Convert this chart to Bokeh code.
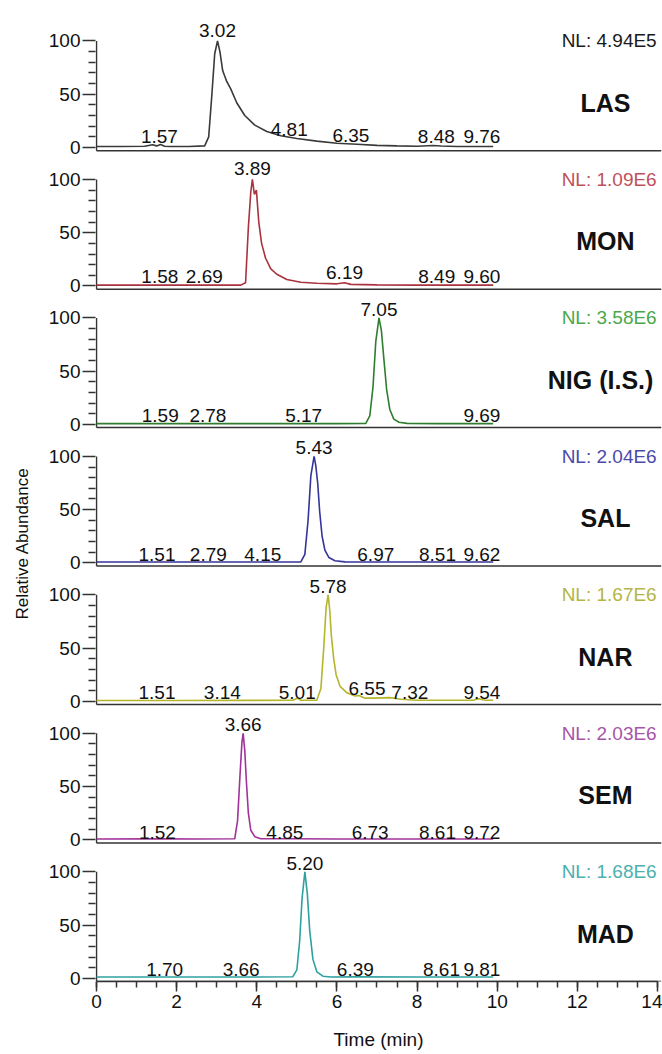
import math
from bokeh.plotting import figure
from bokeh.models import FixedTicker, Range1d, Title
from bokeh.core.properties import value
from bokeh.embed import file_html
from bokeh.resources import INLINE

# ---------------- data ----------------
compounds = ["LAS", "MON", "NIG (I.S.)", "SAL", "NAR", "SEM", "MAD"]
nl_labels = ["NL: 4.94E5", "NL: 1.09E6", "NL: 3.58E6", "NL: 2.04E6",
             "NL: 1.67E6", "NL: 2.03E6", "NL: 1.68E6"]

las_t = [0.0, 0.6, 1.2, 1.4, 1.5, 1.6, 1.7, 1.85, 2.3, 2.7, 2.8, 2.88, 2.95, 3.02, 3.08, 3.15,
         3.25, 3.35, 3.5, 3.7, 3.95, 4.25, 4.6, 5.0, 5.5, 6.0, 6.5, 7.0, 7.5, 8.0, 8.4, 8.6, 9.0, 9.9]
las_a = [1.0, 1.0, 1.2, 2.5, 1.5, 2.8, 1.2, 1.0, 1.0, 1.5, 10, 50, 88, 100, 90, 72,
         62, 55, 42, 30, 21, 15, 11, 8.5, 6, 4, 3, 2, 1.5, 1.2, 1.8, 1.4, 1.0, 1.0]

mon_t = [0.0, 1.0, 2.0, 3.0, 3.6, 3.72, 3.79, 3.85, 3.89, 3.94, 3.99, 4.05, 4.12, 4.22, 4.35,
         4.5, 4.75, 5.1, 5.5, 6.0, 6.19, 6.35, 7.0, 8.0, 9.0, 9.9]
mon_a = [0.8, 0.8, 0.8, 0.8, 0.8, 3, 55, 88, 100, 86, 90, 60, 40, 26, 16,
         11, 6, 3.5, 2.5, 2, 3, 1.5, 1, 0.8, 0.8, 0.8]

nig_t = [0.0, 3.0, 6.0, 6.72, 6.82, 6.9, 6.97, 7.05, 7.11, 7.17, 7.24, 7.32, 7.42, 7.55, 7.75, 8.5, 9.9]
nig_a = [0.8, 0.8, 0.8, 1, 8, 35, 78, 100, 88, 62, 33, 14, 5, 2, 1, 0.8, 0.8]

sal_t = [0.0, 2.0, 4.0, 5.1, 5.2, 5.28, 5.35, 5.43, 5.47, 5.52, 5.57, 5.63, 5.7, 5.8, 5.95, 6.2, 7.0, 8.0, 9.9]
sal_a = [0.8, 0.8, 0.8, 1, 8, 40, 82, 100, 92, 75, 48, 25, 12, 5, 2, 1, 0.8, 0.8, 0.8]

nar_t = [0.0, 2.0, 4.9, 5.01, 5.1, 5.5, 5.6, 5.67, 5.73, 5.78, 5.82, 5.86, 5.92, 5.98, 6.08,
         6.25, 6.45, 6.55, 6.7, 6.9, 7.32, 7.6, 8.0, 9.4, 9.54, 9.7, 9.9]
nar_a = [0.8, 0.8, 1.0, 3.0, 1.0, 1.2, 12, 50, 88, 100, 86, 62, 40, 25, 14,
         8, 5, 5.5, 3, 3, 3.5, 2, 1, 1, 2.5, 1, 1]

sem_t = [0.0, 1.52, 2.5, 3.45, 3.52, 3.58, 3.63, 3.66, 3.7, 3.74, 3.79, 3.85, 3.95, 4.1, 4.85, 6.0, 8.0, 9.9]
sem_a = [0.8, 1.0, 0.8, 1, 18, 60, 92, 100, 84, 55, 25, 9, 3, 1, 1.0, 0.8, 0.8, 0.8]

mad_t = [0.0, 2.0, 4.0, 4.9, 5.0, 5.07, 5.13, 5.2, 5.26, 5.32, 5.4, 5.5, 5.65, 5.85, 6.39, 8.0, 9.9]
mad_a = [1.2, 1.2, 1.2, 1.5, 8, 35, 75, 100, 80, 45, 18, 6, 2, 1.2, 1.5, 1.2, 1.2]

# annotated retention times and label heights (abundance units above baseline)
las_rt = [1.57, 3.02, 4.81, 6.35, 8.48, 9.76]
las_rh = [10, 110, 17, 11, 10, 10]
mon_rt = [1.58, 2.69, 3.89, 6.19, 8.49, 9.60]
mon_rh = [9, 9, 110, 13, 9, 9]
nig_rt = [1.59, 2.78, 5.17, 7.05, 9.69]
nig_rh = [8, 8, 8, 108, 8]
sal_rt = [1.51, 2.79, 4.15, 5.43, 6.97, 8.51, 9.62]
sal_rh = [8, 8, 8, 108, 8, 8, 8]
nar_rt = [1.51, 3.14, 5.01, 5.78, 6.55, 7.32, 9.54]
nar_rh = [8, 8, 8, 108, 12, 8, 8]
sem_rt = [1.52, 3.66, 4.85, 6.73, 8.61, 9.72]
sem_rh = [7, 108, 7, 7, 7, 7]
mad_rt = [1.70, 3.66, 5.20, 6.39, 8.61, 9.81]
mad_rh = [8, 8, 108, 8, 8, 8]

x_ticks = [0, 2, 4, 6, 8, 10, 12, 14]
y_tick_vals = [0, 50, 100]

# ---------------- styling / layout ----------------
trace_colors = ["#3a3a3a", "#a8323e", "#2f7d2f", "#34349a", "#b5b52e", "#a0329a", "#2fa0a0"]
nl_colors = ["#1a1a1a", "#c0505a", "#4aa84a", "#4a4aa8", "#b5b545", "#a855a8", "#4ab0b0"]
name_x = [12.7, 12.7, 12.58, 12.7, 12.7, 12.7, 12.7]
# small horizontal nudges of the retention-time labels (minutes), as placed in the picture
label_nudge = {(4, 6.55): 0.2, (4, 7.32): 0.5, (5, 4.85): -0.15, (5, 6.73): 0.1,
               (5, 8.61): -0.1, (6, 6.39): 0.07, (6, 3.66): -0.05}
STEP = 130
FONT = "Liberation Sans"
X0, X1 = -0.025, 14.1
LABEL_RIGHT = 10.08

traces = [(las_t, las_a), (mon_t, mon_a), (nig_t, nig_a), (sal_t, sal_a),
          (nar_t, nar_a), (sem_t, sem_a), (mad_t, mad_a)]
ann = [(las_rt, las_rh), (mon_rt, mon_rh), (nig_rt, nig_rh), (sal_rt, sal_rh),
       (nar_rt, nar_rh), (sem_rt, sem_rh), (mad_rt, mad_rh)]

p = figure(width=662, height=1054, x_range=Range1d(X0, X1), y_range=Range1d(-3, 918),
           output_backend="svg", toolbar_location=None,
           min_border_left=95, min_border_right=1, min_border_top=0, min_border_bottom=73)
p.outline_line_color = None
p.grid.visible = False
p.background_fill_color = "white"
p.border_fill_color = "white"

n = len(compounds)
majors, minors, overrides = [], [], {}
for k in range(n):
    base = (n - 1 - k) * STEP
    for v in y_tick_vals:
        majors.append(base + v)
        overrides[base + v] = str(v)
    minors += [base + v for v in range(10, 100, 10) if v != 50]

    t, a = traces[k]
    # panel axis lines
    p.segment(x0=[0], y0=[base - 3], x1=[X1], y1=[base - 3], line_color="#333333", line_width=1.5)
    p.segment(x0=[0], y0=[base - 3], x1=[0], y1=[base + 100], line_color="#333333", line_width=1.5)
    p.line(t, [base + v for v in a], line_color=trace_colors[k], line_width=1.6)

    rt, rh = ann[k]
    cx = [r + label_nudge.get((k, r), 0) for r in rt if r <= 9.5]
    cy = [base + h for r, h in zip(rt, rh) if r <= 9.5]
    ct = ["%.2f" % r for r in rt if r <= 9.5]
    p.text(x=cx, y=cy, text=ct, text_font=value(FONT), text_font_size="19px",
           text_align="center", text_baseline="alphabetic", text_color="#111111")
    rx = [LABEL_RIGHT for r in rt if r > 9.5]
    ry = [base + h for r, h in zip(rt, rh) if r > 9.5]
    rtx = ["%.2f" % r for r in rt if r > 9.5]
    p.text(x=rx, y=ry, text=rtx, text_font=value(FONT), text_font_size="19px",
           text_align="right", text_baseline="alphabetic", text_color="#111111")

    p.text(x=[13.98], y=[base + 100], text=[nl_labels[k]], text_font=value(FONT),
           text_font_size="19px", text_align="right", text_baseline="middle",
           text_color=nl_colors[k])
    p.text(x=[name_x[k]], y=[base + 42], text=[compounds[k]], text_font=value(FONT),
           text_font_size="25px", text_font_style="bold", text_align="center",
           text_baseline="middle", text_color="#111111")

yax = p.yaxis[0]
yax.ticker = FixedTicker(ticks=majors, minor_ticks=minors)
yax.major_label_overrides = overrides
yax.axis_line_color = None
yax.major_tick_out = 13
yax.major_tick_in = 0
yax.minor_tick_out = 7
yax.minor_tick_in = 0
yax.major_tick_line_color = "#333333"
yax.minor_tick_line_color = "#333333"
yax.major_tick_line_width = 1.5
yax.minor_tick_line_width = 1.5
yax.major_label_standoff = 2
yax.major_label_text_font = FONT
yax.major_label_text_font_size = "19px"
yax.major_label_text_color = "#111111"

xax = p.xaxis[0]
xax.ticker = FixedTicker(ticks=x_ticks, minor_ticks=[i * 0.5 for i in range(29)])
xax.bounds = (0, 14)
xax.axis_line_color = "#333333"
xax.axis_line_width = 1.5
xax.major_tick_out = 10
xax.major_tick_in = 0
xax.minor_tick_out = 6
xax.minor_tick_in = 0
xax.major_tick_line_color = "#333333"
xax.minor_tick_line_color = "#333333"
xax.major_tick_line_width = 1.5
xax.minor_tick_line_width = 1.5
xax.major_label_standoff = 3
xax.major_label_text_font = FONT
xax.major_label_text_font_size = "19px"
xax.major_label_text_color = "#111111"
xax.axis_label = "Time (min)"
xax.axis_label_text_font = FONT
xax.axis_label_text_font_size = "19px"
xax.axis_label_text_font_style = "normal"
xax.axis_label_text_color = "#111111"
xax.axis_label_standoff = 18

ytitle = Title(text="Relative Abundance", align="left", offset=362, vertical_align="top",
               standoff=23, text_font=FONT, text_font_size="17px",
               text_font_style="normal", text_color="#111111")
p.add_layout(ytitle, "left")

open("out.html", "w").write(file_html(p, INLINE))
